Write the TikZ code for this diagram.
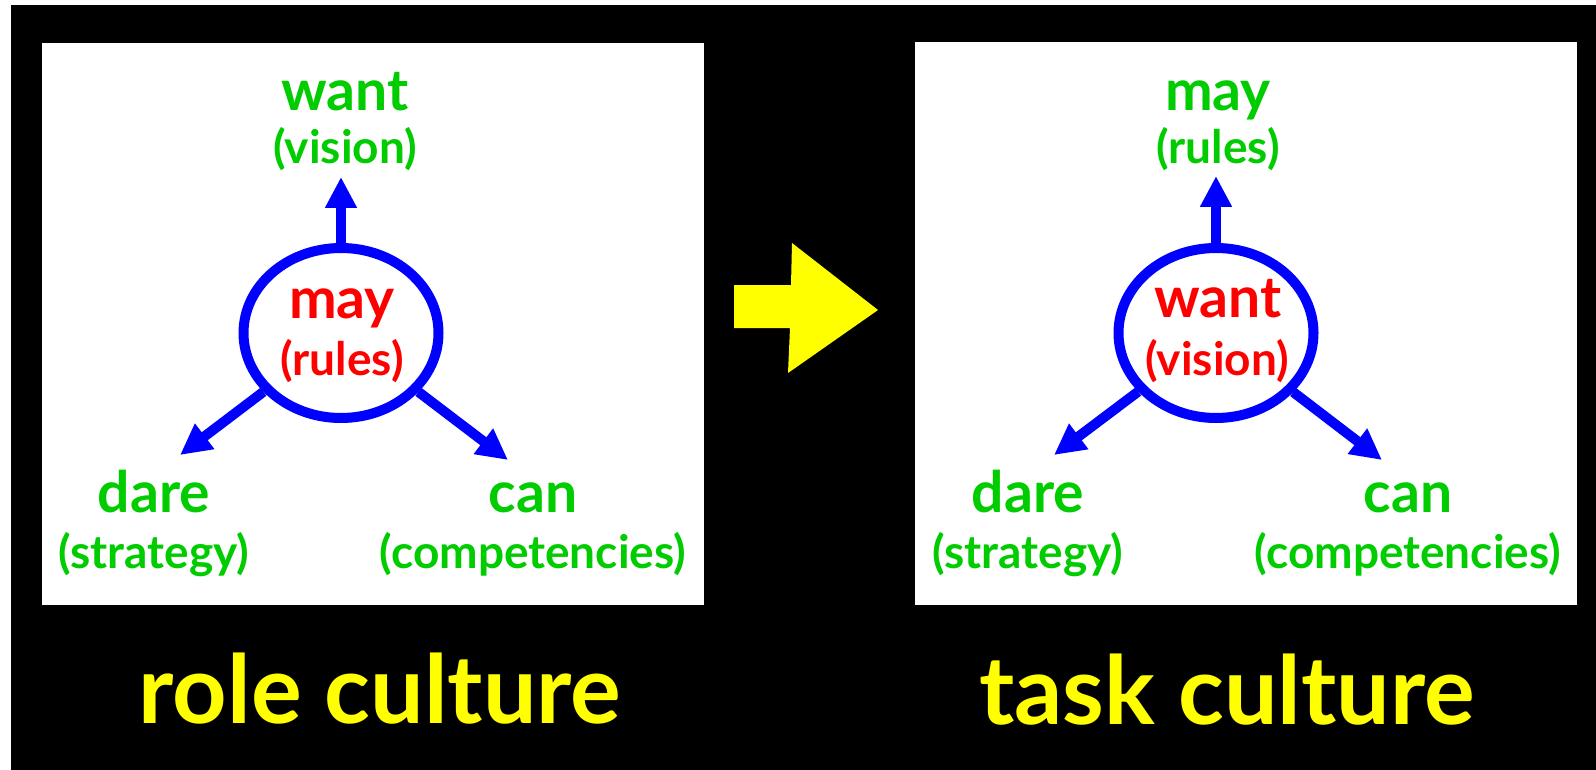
\documentclass[tikz,border=0pt]{standalone}
\usepackage{fontspec}
\setmainfont{Lato}
\usetikzlibrary{arrows.meta,shapes.geometric}
\definecolor{tgreen}{HTML}{00CC00}
\definecolor{tblue}{HTML}{0000FF}
\definecolor{tred}{HTML}{FF0000}
\definecolor{tyellow}{HTML}{FFFF00}
\begin{document}
\begin{tikzpicture}[x=1pt,y=-1pt,
  panel/.style={fill=white,draw=none},
  hub/.style={ellipse,draw=tblue,line width=10pt,minimum width=195pt,minimum height=170pt,inner sep=0pt},
  spoke/.style={draw=tblue,line width=10pt,-{Triangle[width=30pt,length=31pt]}},
  bigword/.style={font=\fontsize{57}{57}\selectfont\bfseries,anchor=base,inner sep=0pt},
  smallword/.style={font=\fontsize{46}{46}\selectfont\bfseries,anchor=base,inner sep=0pt},
  title/.style={text=tyellow,font=\fontsize{95}{95}\selectfont\bfseries,anchor=base,inner sep=0pt}
]
\useasboundingbox (0,0) rectangle (1596,770);
\fill[white] (0,0) rectangle (1596,770);
\fill[black] (11,5) rectangle (1596,770);
\fill[panel] (42,43) rectangle (704,605);
\fill[panel] (915,42) rectangle (1577,605);
% yellow arrow
\fill[tyellow] (734,285) -- (791,285) -- (792,243) -- (878,310) -- (788,373) -- (790,328) -- (734,328) -- cycle;

% left panel
\node[hub] (hubL) at (341,333) {};
\coordinate (tipLU) at (341,177);
\coordinate (tipLL) at (180,455);
\coordinate (tipLR) at (508,460);
\draw[spoke] (hubL) -- (tipLU);
\draw[spoke] (hubL) -- (tipLL);
\draw[spoke] (hubL) -- (tipLR);
\node[bigword,text=tred] (mayL) at (342,318) {may};
\node[smallword,text=tred] (rulesL) at (342,375) {(rules)};
\node[bigword,text=tgreen] (wantL) at (345,111) {want};
\node[smallword,text=tgreen] (visionL) at (345,164) {(vision)};
\node[bigword,text=tgreen] (dareL) at (154,512) {dare};
\node[smallword,text=tgreen] (stratL) at (154,568) {(strategy)};
\node[bigword,text=tgreen] (canL) at (533,512) {can};
\node[smallword,text=tgreen] (compL) at (533,568) {(competencies)};
\node[title] (roleT) at (380,723) {role culture};

% right panel
\node[hub] (hubR) at (1216,333) {};
\coordinate (tipRU) at (1216,176);
\coordinate (tipRL) at (1054,455);
\coordinate (tipRR) at (1382,460);
\draw[spoke] (hubR) -- (tipRU);
\draw[spoke] (hubR) -- (tipRL);
\draw[spoke] (hubR) -- (tipRR);
\node[bigword,text=tred] (wantR) at (1218,317) {want};
\node[smallword,text=tred] (visionR) at (1217,375) {(vision)};
\node[bigword,text=tgreen] (mayR) at (1218,111) {may};
\node[smallword,text=tgreen] (rulesR) at (1218,164) {(rules)};
\node[bigword,text=tgreen] (dareR) at (1028,512) {dare};
\node[smallword,text=tgreen] (stratR) at (1028,568) {(strategy)};
\node[bigword,text=tgreen] (canR) at (1408,512) {can};
\node[smallword,text=tgreen] (compR) at (1408,568) {(competencies)};
\node[title] (taskT) at (1227,724) {task culture};
\end{tikzpicture}
\end{document}
